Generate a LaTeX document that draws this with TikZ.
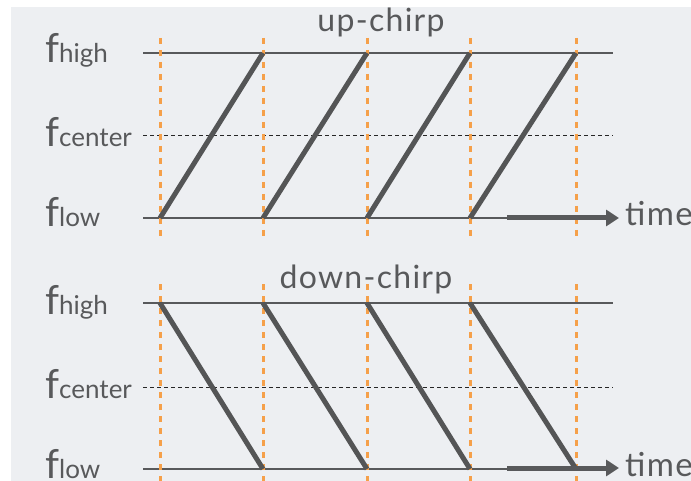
\documentclass[tikz,border=0pt]{standalone}
\usepackage{fontspec}
\setmainfont{Lato}
\usetikzlibrary{arrows.meta}
\definecolor{bggray}{HTML}{EDEFF2}
\definecolor{inkgray}{HTML}{58595B}
\definecolor{slotorange}{HTML}{F5A04A}
\tikzset{
  axisline/.style={draw=inkgray, line width=1.2pt},
  centerline/.style={draw=black!85, line width=1pt, dash pattern=on 4pt off 3pt},
  slotline/.style={draw=slotorange, line width=3pt, dash pattern=on 6pt off 6pt},
  chirpline/.style={draw=inkgray!95!black, line width=5pt},
  timearrow/.style={draw=inkgray, line width=5pt, -{Triangle[length=13pt,width=16pt]}},
  freqlabel/.style={anchor=base west, inner sep=0pt, text=inkgray, font=\fontsize{40}{40}\selectfont},
  title/.style={anchor=base, inner sep=0pt, text=inkgray,
    font=\fontsize{32}{32}\selectfont\addfontfeature{LetterSpace=4}},
  timelabel/.style={anchor=base west, inner sep=0pt, text=inkgray,
    font=\fontsize{33}{33}\selectfont\addfontfeature{LetterSpace=4}}
}
\newcommand{\sublab}[1]{{\fontsize{26}{26}\selectfont #1}}

\begin{document}
\begin{tikzpicture}[x=1pt, y=-1pt]
  % page and grey backdrop
  \fill[white] (0,0) rectangle (691,481);
  \fill[bggray] (11,7) rectangle (691,481);
  \useasboundingbox (0,0) rectangle (691,481);

  % ---- up-chirp ----
  \node[title] (uptitle) at (381,32) {up-chirp};
  \node[freqlabel] (uphigh) at (45,63) {f\sublab{high}};
  \node[freqlabel] (upcenter) at (45,147) {f\sublab{center}};
  \node[freqlabel] (uplow) at (45,227) {f\sublab{low}};

  \draw[axisline] (143,53) -- (613,53);
  \draw[centerline] (143,136) -- (613,136);
  \draw[axisline] (143,218) -- (613,218);

  \foreach \x in {160,263,367,470,576}
    \draw[slotline] (\x,38) -- (\x,240);

  \foreach \a/\b in {160/263,263/367,367/470,470/576}
    \draw[chirpline] (\a,218) -- (\b,53);

  \node[timelabel] (uptime) at (625,226) {time};
  \coordinate (upstart) at (507,218);
  \coordinate (upend) at (619,218);
  \draw[timearrow] (upstart) -- (upend);

  % ---- down-chirp ----
  \node[title] (downtitle) at (366,288) {down-chirp};
  \node[freqlabel] (downhigh) at (45,314) {f\sublab{high}};
  \node[freqlabel] (downcenter) at (45,398) {f\sublab{center}};
  \node[freqlabel] (downlow) at (45,478) {f\sublab{low}};

  \draw[axisline] (143,303) -- (613,303);
  \draw[centerline] (143,387) -- (613,387);
  \draw[axisline] (143,469) -- (613,469);

  \foreach \x in {160,263,367,470,576}
    \draw[slotline] (\x,284) -- (\x,481);

  \foreach \a/\b in {160/263,263/367,367/470,470/576}
    \draw[chirpline] (\a,303) -- (\b,469);

  \node[timelabel] (downtime) at (625,476) {time};
  \coordinate (downstart) at (507,468);
  \coordinate (downend) at (619,468);
  \draw[timearrow] (downstart) -- (downend);
\end{tikzpicture}
\end{document}
